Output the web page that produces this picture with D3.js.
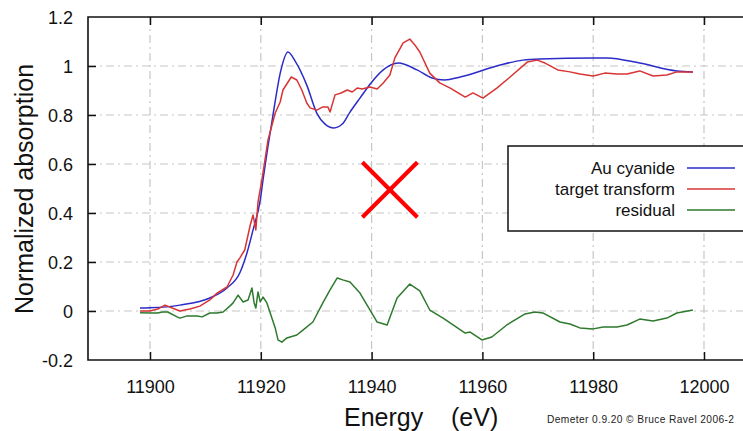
<!DOCTYPE html>
<html>
<head>
<meta charset="utf-8">
<script src="https://cdn.jsdelivr.net/npm/d3@7"></script>
<style>
  html, body { margin: 0; padding: 0; background: #fff; overflow: hidden; }
  svg { display: block; font-family: "Liberation Sans", Arial, sans-serif; }
</style>
</head>
<body>
<svg id="chart" width="743" height="431"></svg>
<script>
// ---------- data ----------
const xTicks = [11900, 11920, 11940, 11960, 11980, 12000];
const yTicks = [-0.2, 0, 0.2, 0.4, 0.6, 0.8, 1, 1.2];
const yTickLabels = ["-0.2", "0", "0.2", "0.4", "0.6", "0.8", "1", "1.2"];

const seriesNames = ["Au cyanide", "target transform", "residual"];

const auEnergy = [11898.2, 11900, 11905.4, 11910.8, 11913.9, 11916.2, 11917.5, 11918.6, 11919.9, 11920.4, 11922.2, 11923.6, 11924.9, 11926.2, 11928.3, 11930.1, 11931.6, 11933.2, 11934.7, 11936.1, 11937.9, 11939.9, 11942.1, 11944.8, 11948.2, 11950.9, 11953.2, 11956.0, 11963.2, 11967.3, 11970.4, 11980.0, 11982.5, 11988.4, 11995.1, 11998.0];
const auValue = [0.012, 0.013, 0.024, 0.053, 0.094, 0.155, 0.237, 0.331, 0.453, 0.535, 0.80, 0.98, 1.057, 1.02, 0.922, 0.808, 0.763, 0.747, 0.763, 0.812, 0.869, 0.931, 0.984, 1.012, 0.984, 0.951, 0.943, 0.955, 1.004, 1.024, 1.029, 1.033, 1.033, 1.012, 0.98, 0.976];

const ttEnergy = [11898.2, 11900, 11901.4, 11902.7, 11904.0, 11905.4, 11907.2, 11909.0, 11910.8, 11912.1, 11913.9, 11915.0, 11915.7, 11916.2, 11917.1, 11918.1, 11918.6, 11919.1, 11919.5, 11920.2, 11921.3, 11922.6, 11923.5, 11924.0, 11925.5, 11926.5, 11927.4, 11928.3, 11928.9, 11930.1, 11931.2, 11932.1, 11932.5, 11933.4, 11934.5, 11935.6, 11936.5, 11937.4, 11938.3, 11939.7, 11941.0, 11942.1, 11943.3, 11944.2, 11945.7, 11946.9, 11947.8, 11948.7, 11950.5, 11952.3, 11954.2, 11956.9, 11958.3, 11960.1, 11962.6, 11965.0, 11968.1, 11969.9, 11971.3, 11973.6, 11975.8, 11977.6, 11980.0, 11982.1, 11984.3, 11986.1, 11988.4, 11990.8, 11993.3, 11995.1, 11998.0];
const ttValue = [0.0, 0.0, 0.008, 0.024, 0.012, 0.0, 0.008, 0.02, 0.045, 0.073, 0.098, 0.147, 0.2, 0.216, 0.249, 0.351, 0.392, 0.331, 0.445, 0.535, 0.698, 0.808, 0.853, 0.902, 0.955, 0.943, 0.902, 0.849, 0.829, 0.820, 0.833, 0.833, 0.812, 0.882, 0.89, 0.902, 0.894, 0.91, 0.906, 0.914, 0.906, 0.931, 0.963, 1.033, 1.094, 1.110, 1.086, 1.057, 0.971, 0.931, 0.91, 0.873, 0.89, 0.869, 0.91, 0.955, 1.016, 1.024, 1.012, 0.984, 0.976, 0.967, 0.959, 0.971, 0.967, 0.967, 0.980, 0.959, 0.963, 0.976, 0.976];

const resEnergy = [11898.2, 11900.0, 11901.3, 11902.3, 11903.2, 11904.9, 11905.4, 11906.7, 11908.5, 11909.4, 11910.8, 11912.1, 11913.2, 11914.4, 11915.0, 11915.9, 11916.8, 11917.7, 11918.4, 11918.8, 11919.1, 11919.5, 11919.9, 11920.4, 11921.1, 11921.7, 11922.6, 11923.1, 11923.8, 11924.7, 11926.5, 11927.6, 11929.4, 11931.2, 11932.5, 11933.8, 11934.8, 11936.1, 11937.9, 11939.4, 11941.0, 11942.8, 11944.6, 11946.9, 11948.7, 11950.5, 11952.9, 11954.7, 11956.9, 11957.8, 11959.9, 11961.7, 11964.4, 11967.7, 11969.5, 11970.9, 11974.0, 11975.8, 11977.6, 11980.0, 11981.8, 11984.3, 11986.1, 11988.4, 11990.8, 11993.3, 11995.1, 11998.0];
const resValue = [-0.007, -0.008, -0.008, -0.004, -0.004, -0.024, -0.029, -0.02, -0.02, -0.024, -0.008, -0.008, -0.004, 0.02, 0.033, 0.065, 0.037, 0.045, 0.094, 0.033, 0.012, 0.078, 0.037, 0.057, 0.033, -0.008, -0.069, -0.118, -0.127, -0.11, -0.098, -0.078, -0.045, 0.033, 0.086, 0.135, 0.127, 0.118, 0.073, 0.016, -0.045, -0.057, 0.053, 0.110, 0.082, 0.004, -0.029, -0.057, -0.090, -0.086, -0.118, -0.106, -0.057, -0.012, -0.004, -0.008, -0.045, -0.053, -0.069, -0.073, -0.065, -0.065, -0.057, -0.033, -0.041, -0.029, -0.008, 0.004];

// annotation (red cross) centre in data units
const crossE = 11943.3;
const crossV = 0.495;

// ---------- drawing ----------
const svg = d3.select("#chart");
const padL = 88, padT = 17, padB = 360;
const x = d3.scaleLinear().domain([11900, 12000]).range([150, 704]);
const xMax = x.invert(780);
const y = d3.scaleLinear().domain([-0.2, 1.2]).range([padB, padT]);
const padR = x(xMax);

const colors = ["#2b2bc8", "#d83434", "#2e7a2e"];

// grid
const grid = svg.append("g").attr("stroke", "#c6c6c6").attr("stroke-width", 1.2)
  .attr("stroke-dasharray", "8,4,2,4").attr("fill", "none");
grid.selectAll("line.h").data(yTicks.filter(v => v > -0.2 && v < 1.2)).join("line").attr("class", "h")
  .attr("x1", padL).attr("x2", padR).attr("y1", d => y(d)).attr("y2", d => y(d));
grid.selectAll("line.v").data(xTicks).join("line").attr("class", "v")
  .attr("x1", d => x(d)).attr("x2", d => x(d)).attr("y1", padT).attr("y2", padB);

// curves
const series = [
  { e: auEnergy, v: auValue, c: colors[0], curve: d3.curveMonotoneX },
  { e: ttEnergy, v: ttValue, c: colors[1], curve: d3.curveLinear },
  { e: resEnergy, v: resValue, c: colors[2], curve: d3.curveLinear }
];
series.forEach(s => {
  const line = d3.line().x(d => x(d[0])).y(d => y(d[1])).curve(s.curve);
  svg.append("path").datum(d3.zip(s.e, s.v))
    .attr("d", line).attr("fill", "none").attr("stroke", s.c)
    .attr("stroke-width", 1.5).attr("stroke-linejoin", "round");
});

// axes (d3 axes with inward ticks, frame)
const xAxisB = d3.axisBottom(x).tickValues(xTicks).tickSize(-8).tickPadding(20).tickFormat(d3.format("d"));
const gB = svg.append("g").attr("transform", `translate(0,${padB})`).call(xAxisB);
const xAxisT = d3.axisTop(x).tickValues(xTicks).tickSize(-8).tickFormat("");
const gT = svg.append("g").attr("transform", `translate(0,${padT})`).call(xAxisT);
const yAxisL = d3.axisLeft(y).tickValues(yTicks).tickSize(-8).tickPadding(15)
  .tickFormat((d, i) => yTickLabels[i]);
const gL = svg.append("g").attr("transform", `translate(${padL},0)`).call(yAxisL);
[gB, gT, gL].forEach(g => {
  g.select(".domain").remove();
  g.selectAll(".tick line").attr("stroke", "#111").attr("stroke-width", 1.5);
  g.selectAll("text").attr("fill", "#111").style("font-size", "18px")
    .style("font-family", '"Liberation Sans", Arial, sans-serif');
});
gL.selectAll(".tick").filter(d => d === -0.2 || d === 1.2).select("line").remove();
gL.selectAll("text").attr("dy", "0.34em");
gB.selectAll("text").attr("dy", "0.72em");

svg.append("path")
  .attr("d", `M${padR},${padT}H${padL}V${padB}H${padR}`)
  .attr("fill", "none").attr("stroke", "#111").attr("stroke-width", 1.6);

// legend
const lg = svg.append("g");
lg.append("rect").attr("x", 508).attr("y", 146).attr("width", 260).attr("height", 85)
  .attr("fill", "#fff").attr("stroke", "#111").attr("stroke-width", 1.5);
seriesNames.forEach((n, i) => {
  const yy = 168 + i * 21;
  lg.append("text").attr("x", 675).attr("y", yy + 5.5).attr("text-anchor", "end")
    .style("font-size", "17px").attr("fill", "#111").text(n);
  lg.append("line").attr("x1", 687).attr("x2", 735).attr("y1", yy).attr("y2", yy)
    .attr("stroke", colors[i]).attr("stroke-width", 1.5);
});

// titles
svg.append("text").attr("transform", "translate(33,189) rotate(-90)")
  .attr("text-anchor", "middle").style("font-size", "25px").attr("fill", "#111")
  .text("Normalized absorption");
svg.append("text").attr("x", 344).attr("y", 426)
  .style("font-size", "25px").style("white-space", "pre").attr("fill", "#111")
  .text("Energy    (eV)");
svg.append("text").attr("x", 547).attr("y", 423)
  .style("font-size", "10.2px").style("letter-spacing", "0.4px").attr("fill", "#222")
  .text("Demeter 0.9.20 © Bruce Ravel 2006-2");

// red cross annotation
const cx = x(crossE), cy = y(crossV), h = 27.5;
const cross = svg.append("g").attr("stroke", "#ff0000").attr("stroke-width", 4);
cross.append("line").attr("x1", cx - h).attr("y1", cy - h).attr("x2", cx + h).attr("y2", cy + h);
cross.append("line").attr("x1", cx - h).attr("y1", cy + h).attr("x2", cx + h).attr("y2", cy - h);
</script>
</body>
</html>
